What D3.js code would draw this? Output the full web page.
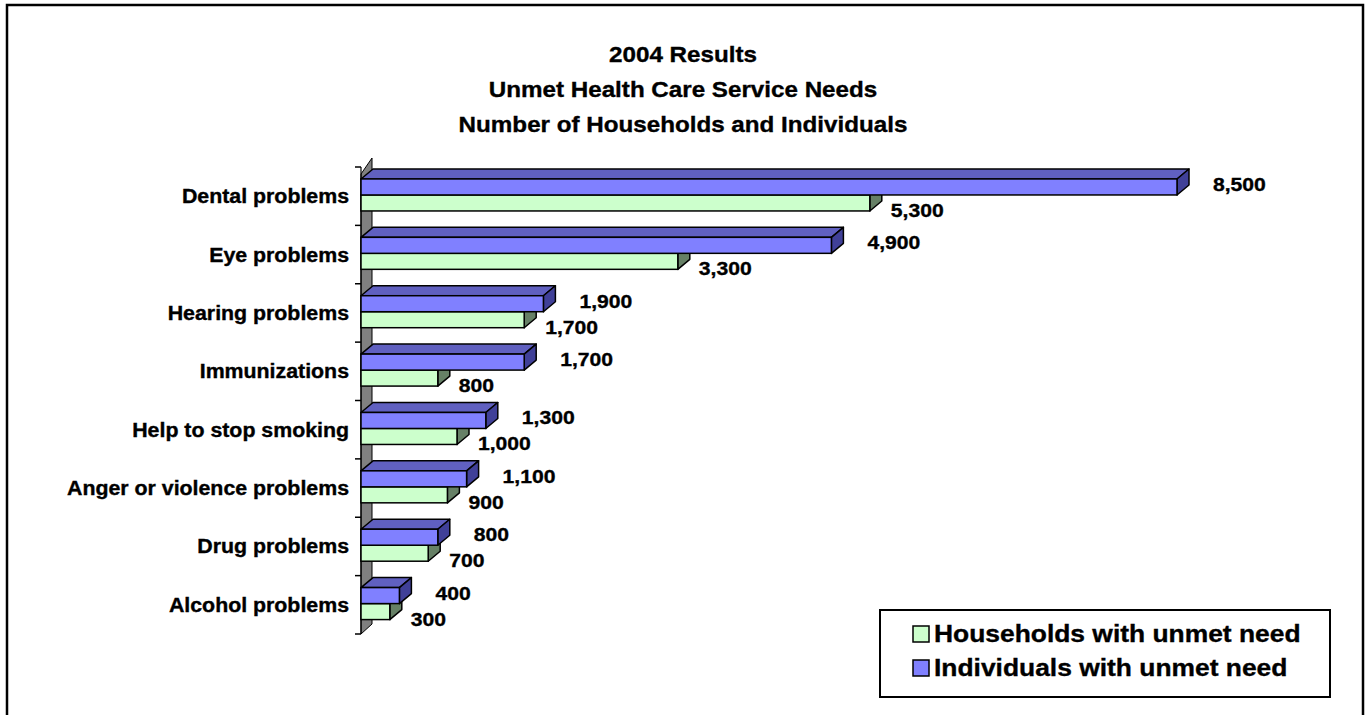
<!DOCTYPE html>
<html>
<head>
<meta charset="utf-8">
<script src="https://cdn.jsdelivr.net/npm/d3@7"></script>
<style>
  html, body { margin: 0; padding: 0; background: #fff; }
  svg { display: block; }
  text { font-family: "Liberation Sans", Arial, sans-serif; font-weight: bold; fill: #000; stroke: #000; stroke-width: 0.35px; }
</style>
</head>
<body>
<svg id="chart" width="1367" height="715"></svg>
<script>
// ---- data ----
const titleLines = ["2004 Results", "Unmet Health Care Service Needs", "Number of Households and Individuals"];
const categories = ["Dental problems", "Eye problems", "Hearing problems", "Immunizations",
  "Help to stop smoking", "Anger or violence problems", "Drug problems", "Alcohol problems"];
const individuals = [8500, 4900, 1900, 1700, 1300, 1100, 800, 400];
const households  = [5300, 3300, 1700, 800, 1000, 900, 700, 300];
const seriesNames = ["Households with unmet need", "Individuals with unmet need"];

// ---- styles ----
const SX = 1.1; // horizontal text stretch of the original picture
const colors = {
  ind: { front: "#8080FF", top: "#6060C0", side: "#404098" },
  hh:  { front: "#CCFFCC", top: "#99BF99", side: "#668066" }
};
const DX = 12, DY = -10; // 3D depth offset

const svg = d3.select("#chart");

// outer frame
svg.append("rect").attr("x", 7).attr("y", 5).attr("width", 1356).attr("height", 730)
  .attr("fill", "none").attr("stroke", "#000").attr("stroke-width", 2.5);

function stretchedText(g, x, y, str, size, anchor) {
  return g.append("text")
    .attr("transform", `translate(${x},${y}) scale(${SX},1)`)
    .attr("text-anchor", anchor || "start")
    .style("font-size", size + "px")
    .text(str);
}

// title
titleLines.forEach((t, i) => stretchedText(svg, 683, 62 + i * 35, t, 22, "middle"));

// scales
const x = d3.scaleLinear().domain([0, 8500]).range([361, 1177]);
const y = d3.scaleBand().domain(categories).range([167, 634]);
const bw = y.bandwidth();
const ySub = d3.scaleBand().domain(["ind", "hh"]).range([0.205 * bw, 0.753 * bw]);

// wall (3D category axis wall)
const x0 = x(0), yTop = y.range()[0], yBot = y.range()[1];
svg.append("path")
  .attr("d", `M${x0},${yTop + 7} L${x0 + DX - 1},${yTop - 9} L${x0 + DX - 1},${yBot + DY} L${x0},${yBot} Z`)
  .attr("fill", "#808080").attr("stroke", "#000").attr("stroke-width", 1);

// axis line + ticks
const tickYs = categories.map(c => y(c)).concat([yBot]);
svg.append("line").attr("x1", x0).attr("x2", x0).attr("y1", yTop).attr("y2", yBot)
  .attr("stroke", "#000").attr("stroke-width", 1.2);
svg.selectAll(".tick").data(tickYs).join("line")
  .attr("x1", x0 - 6).attr("x2", x0).attr("y1", d => d).attr("y2", d => d)
  .attr("stroke", "#000").attr("stroke-width", 1.5);

// category labels
categories.forEach(c => stretchedText(svg, 349, y(c) + bw / 2 + 7, c, 19.4, "end"));

// 3D bar drawer
function bar3d(g, x1, y1, w, h, col) {
  const x2 = x1 + w, y2 = y1 + h;
  g.append("path").attr("d", `M${x1},${y1} L${x1 + DX},${y1 + DY} L${x2 + DX},${y1 + DY} L${x2},${y1} Z`)
    .attr("fill", col.top).attr("stroke", "#000").attr("stroke-width", 1.5).attr("stroke-linejoin", "round");
  g.append("path").attr("d", `M${x2},${y1} L${x2 + DX},${y1 + DY} L${x2 + DX},${y2 + DY} L${x2},${y2} Z`)
    .attr("fill", col.side).attr("stroke", "#000").attr("stroke-width", 1.5).attr("stroke-linejoin", "round");
  g.append("rect").attr("x", x1).attr("y", y1).attr("width", w).attr("height", h)
    .attr("fill", col.front).attr("stroke", "#000").attr("stroke-width", 1.5);
}

const bars = svg.append("g");
const fmt = d3.format(",");
categories.forEach((c, i) => {
  const by = y(c);
  // households first (lower, drawn behind)
  bar3d(bars, x0, by + ySub("hh"), x(households[i]) - x0, ySub.bandwidth(), colors.hh);
  bar3d(bars, x0, by + ySub("ind"), x(individuals[i]) - x0, ySub.bandwidth(), colors.ind);
});
categories.forEach((c, i) => {
  const by = y(c);
  stretchedText(svg, x(individuals[i]) + 36, by + ySub("ind") + ySub.bandwidth() / 2 - 3 + 7, fmt(individuals[i]), 19.2, "start");
  stretchedText(svg, x(households[i]) + 21, by + ySub("hh") + ySub.bandwidth() / 2 + 7 + 7, fmt(households[i]), 19.2, "start");
});

// legend
const lg = svg.append("g");
lg.append("rect").attr("x", 880).attr("y", 610).attr("width", 450).attr("height", 87)
  .attr("fill", "#fff").attr("stroke", "#000").attr("stroke-width", 2);
[{ name: seriesNames[0], col: colors.hh.front, cy: 634 },
 { name: seriesNames[1], col: colors.ind.front, cy: 668 }].forEach(d => {
  lg.append("rect").attr("x", 913).attr("y", d.cy - 8).attr("width", 16).attr("height", 16)
    .attr("fill", d.col).attr("stroke", "#000").attr("stroke-width", 1.5);
  stretchedText(lg, 934, d.cy + 8, d.name, 24, "start");
});
</script>
</body>
</html>
